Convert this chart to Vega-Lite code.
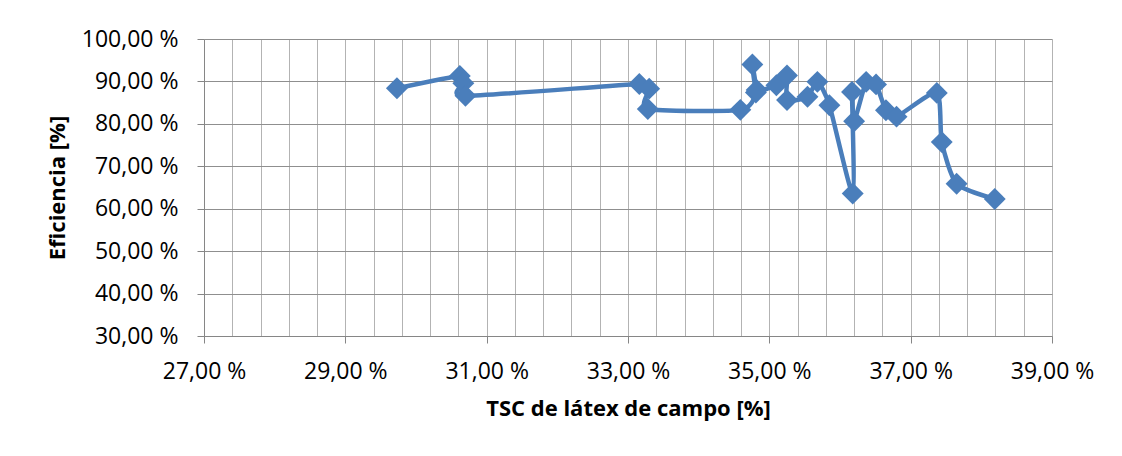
{
  "$schema": "https://vega.github.io/schema/vega-lite/v6.json",
  "width": 848,
  "height": 297,
  "autosize": {"type": "none"},
  "padding": {"left": 204, "top": 39, "right": 70, "bottom": 120},
  "background": "white",
  "config": {"view": {"stroke": null}, "font": "Open Sans"},
  "data": {
    "values": [
      {"i": 1, "tsc": 29.73, "ef": 88.4},
      {"i": 2, "tsc": 30.62, "ef": 91.3},
      {"i": 3, "tsc": 30.67, "ef": 89.6},
      {"i": 4, "tsc": 30.70, "ef": 86.6},
      {"i": 5, "tsc": 33.16, "ef": 89.4},
      {"i": 6, "tsc": 33.30, "ef": 88.3},
      {"i": 7, "tsc": 33.28, "ef": 83.5},
      {"i": 8, "tsc": 34.59, "ef": 83.3},
      {"i": 9, "tsc": 34.81, "ef": 87.4},
      {"i": 10, "tsc": 34.76, "ef": 94.0},
      {"i": 11, "tsc": 34.82, "ef": 88.0},
      {"i": 12, "tsc": 35.10, "ef": 89.1},
      {"i": 13, "tsc": 35.25, "ef": 91.4},
      {"i": 14, "tsc": 35.25, "ef": 85.6},
      {"i": 15, "tsc": 35.54, "ef": 86.4},
      {"i": 16, "tsc": 35.68, "ef": 89.9},
      {"i": 17, "tsc": 35.85, "ef": 84.4},
      {"i": 18, "tsc": 36.18, "ef": 63.6},
      {"i": 19, "tsc": 36.17, "ef": 87.5},
      {"i": 20, "tsc": 36.20, "ef": 80.6},
      {"i": 21, "tsc": 36.37, "ef": 89.9},
      {"i": 22, "tsc": 36.51, "ef": 89.3},
      {"i": 23, "tsc": 36.65, "ef": 83.2},
      {"i": 24, "tsc": 36.80, "ef": 81.7},
      {"i": 25, "tsc": 37.37, "ef": 87.3},
      {"i": 26, "tsc": 37.44, "ef": 75.7},
      {"i": 27, "tsc": 37.65, "ef": 65.9},
      {"i": 28, "tsc": 38.19, "ef": 62.3}
    ]
  },
  "encoding": {
    "x": {
      "field": "tsc",
      "type": "quantitative",
      "scale": {"domain": [27, 39], "nice": false, "zero": false},
      "axis": {
        "values": [27, 27.4, 27.8, 28.2, 28.6, 29, 29.4, 29.8, 30.2, 30.6, 31, 31.4, 31.8, 32.2, 32.6, 33, 33.4, 33.8, 34.2, 34.6, 35, 35.4, 35.8, 36.2, 36.6, 37, 37.4, 37.8, 38.2, 38.6, 39],
        "labelExpr": "(datum.value - 27) % 2 == 0 ? replace(format(datum.value, '.2f'), '.', ',') + ' %' : ''",
        "labelOverlap": false,
        "labelFlush": false,
        "labelFontSize": 23,
        "labelColor": "#000000",
        "labelPadding": 17,
        "tickSize": 7,
        "tickColor": "#868686",
        "tickOpacity": {"condition": {"test": "(datum.value - 27) % 2 == 0", "value": 1}, "value": 0},
        "domainColor": "#868686",
        "gridColor": "#b3b3b3",
        "title": "TSC de látex de campo [%]",
        "titleFontSize": 22,
        "titleFontWeight": "bold",
        "titleColor": "#000000",
        "titlePadding": 15
      }
    },
    "y": {
      "field": "ef",
      "type": "quantitative",
      "scale": {"domain": [30, 100], "nice": false, "zero": false},
      "axis": {
        "values": [30, 40, 50, 60, 70, 80, 90, 100],
        "labelExpr": "replace(format(datum.value, '.2f'), '.', ',') + ' %'",
        "labelFontSize": 23,
        "labelColor": "#000000",
        "labelPadding": 19,
        "tickSize": 7,
        "tickColor": "#868686",
        "domainColor": "#868686",
        "gridColor": "#8f8f8f",
        "title": "Eficiencia [%]",
        "titleFontSize": 22,
        "titleFontWeight": "bold",
        "titleColor": "#000000",
        "titlePadding": 12
      }
    }
  },
  "layer": [
    {
      "mark": {"type": "line", "interpolate": "cardinal", "tension": 0.35, "color": "#4A7EBB", "strokeWidth": 4.5},
      "encoding": {"order": {"field": "i", "type": "quantitative"}}
    },
    {
      "mark": {"type": "point", "shape": "diamond", "filled": true, "size": 480, "color": "#4A7EBB", "opacity": 1}
    }
  ]
}
